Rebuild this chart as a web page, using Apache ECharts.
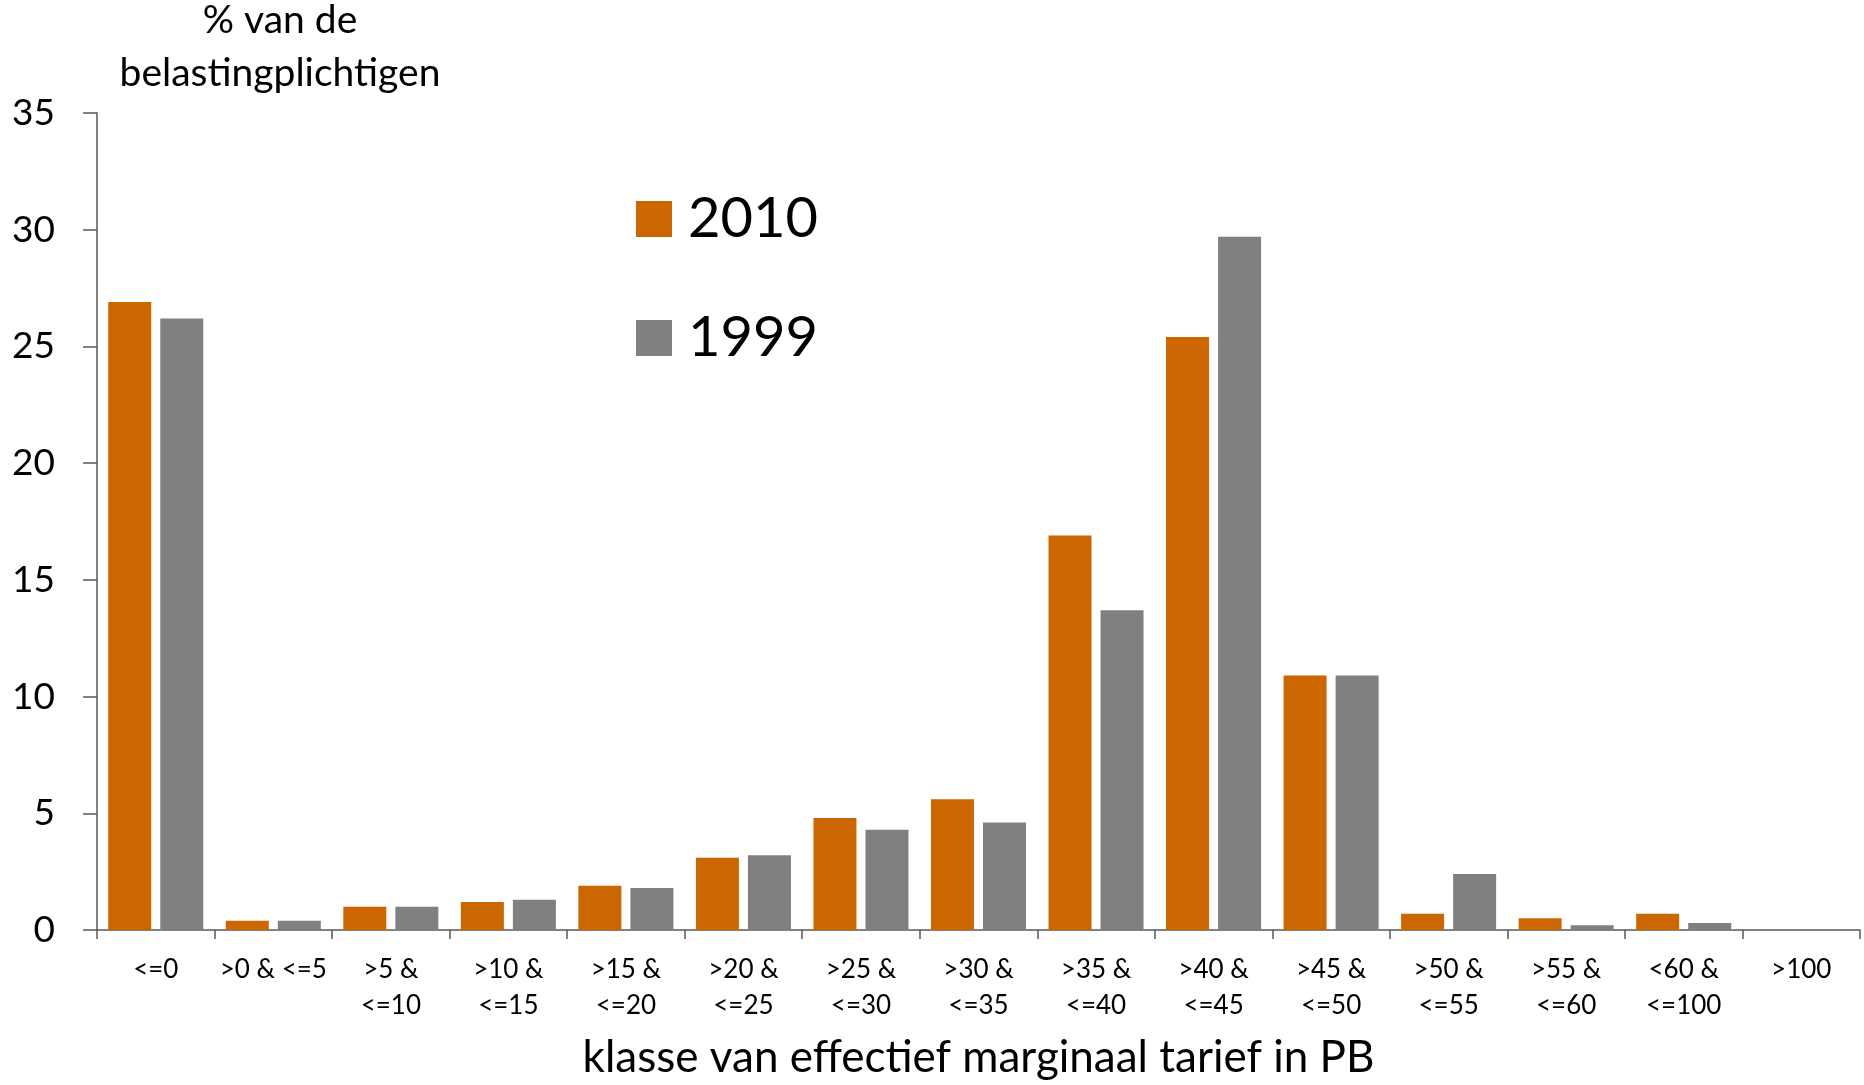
<!DOCTYPE html>
<html>
<head>
<meta charset="utf-8">
<script src="https://cdn.jsdelivr.net/npm/echarts@6/dist/echarts.min.js"></script>
<style>
  html, body { margin: 0; padding: 0; background: #fff; }
  #chart { width: 1864px; height: 1085px; }
</style>
</head>
<body>
<div id="chart"></div>
<script>
  // klassen van het effectief marginaal tarief
  var categories = ['<=0', '>0 & <=5', '>5 &\n<=10', '>10 &\n<=15', '>15 &\n<=20', '>20 &\n<=25',
    '>25 &\n<=30', '>30 &\n<=35', '>35 &\n<=40', '>40 &\n<=45', '>45 &\n<=50', '>50 &\n<=55',
    '>55 &\n<=60', '<60 &\n<=100', '>100']
  var values2010 = [26.9, 0.4, 1.0, 1.2, 1.9, 3.1, 4.8, 5.6, 16.9, 25.4, 10.9, 0.7, 0.5, 0.7, 0]
  var values1999 = [26.2, 0.4, 1.0, 1.3, 1.8, 3.2, 4.3, 4.6, 13.7, 29.7, 10.9, 2.4, 0.2, 0.3, 0]
  var yTicks = [0, 5, 10, 15, 20, 25, 30, 35]

  var font = 'Lato, "Open Sans", sans-serif'
  var axisColor = '#595959'

  var chart = echarts.init(document.getElementById('chart'))
  chart.setOption({
    animation: false,
    textStyle: { fontFamily: font },
    title: {
      text: '% van de\nbelastingplichtigen',
      left: 275,
      top: -11,
      textAlign: 'center',
      textStyle: {
        fontFamily: font,
        fontSize: 39,
        fontWeight: 'normal',
        color: '#000',
        lineHeight: 53
      }
    },
    legend: {
      orient: 'vertical',
      left: 631,
      top: 186,
      itemWidth: 36,
      itemHeight: 36,
      itemGap: 63,
      icon: 'rect',
      data: ['2010', '1999'],
      textStyle: {
        fontFamily: font,
        fontSize: 56,
        color: '#000',
        padding: [0, 0, 0, 11]
      }
    },
    grid: {
      left: 97,
      right: 4,
      top: 113,
      bottom: 154,
      containLabel: false
    },
    xAxis: {
      type: 'category',
      data: categories,
      name: 'klasse van effectief marginaal tarief in PB',
      nameLocation: 'middle',
      nameGap: 106,
      nameTextStyle: { fontFamily: font, fontSize: 44, color: '#000' },
      axisLine: { lineStyle: { color: axisColor, width: 1.5 } },
      axisTick: { show: true, alignWithLabel: false, length: 9, lineStyle: { color: axisColor, width: 1.5 } },
      axisLabel: {
        interval: 0,
        margin: 22,
        fontFamily: font,
        fontSize: 26,
        lineHeight: 36,
        color: '#000'
      }
    },
    yAxis: {
      type: 'value',
      min: 0,
      max: 35,
      interval: 5,
      axisLine: { show: true, lineStyle: { color: axisColor, width: 1.5 } },
      axisTick: { show: true, length: 14, lineStyle: { color: axisColor, width: 1.5 } },
      splitLine: { show: false },
      axisLabel: {
        margin: 42,
        fontFamily: font,
        fontSize: 37,
        color: '#000',
        formatter: function (v) {
          return yTicks.indexOf(v) >= 0 ? String(v) : ''
        }
      }
    },
    series: [
      {
        name: '2010',
        type: 'bar',
        data: values2010,
        barWidth: 43,
        barGap: '21%',
        itemStyle: { color: '#CC6600' }
      },
      {
        name: '1999',
        type: 'bar',
        data: values1999,
        barWidth: 43,
        itemStyle: { color: '#808080' }
      }
    ]
  })
</script>
</body>
</html>
